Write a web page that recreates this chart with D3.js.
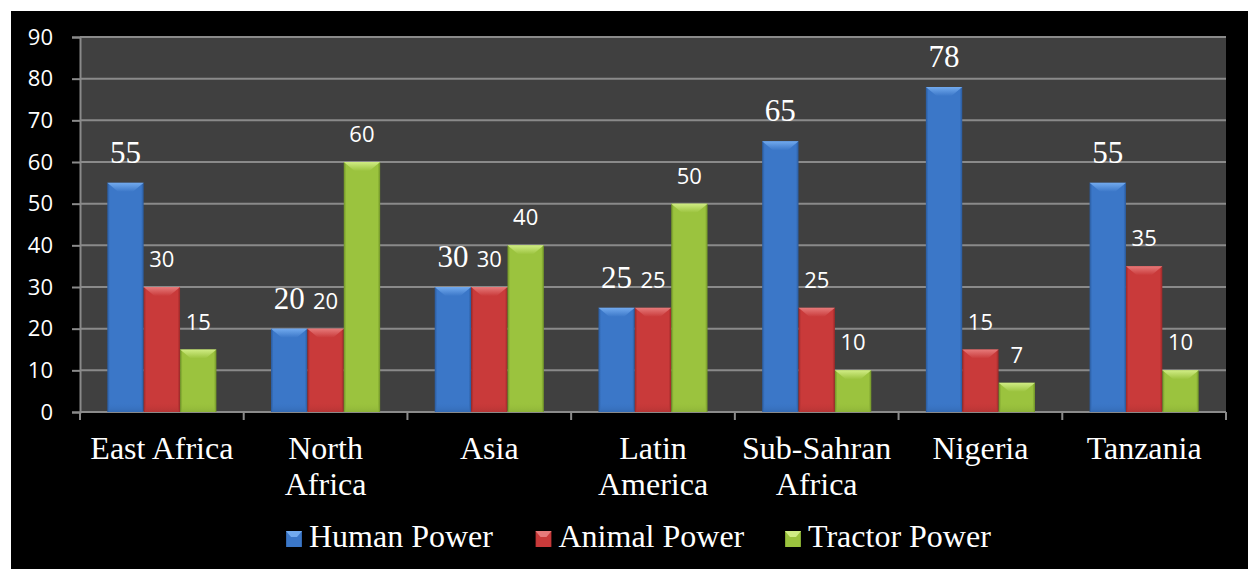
<!DOCTYPE html>
<html>
<head>
<meta charset="utf-8">
<script src="https://cdn.jsdelivr.net/npm/d3@7"></script>
<style>
  html, body { margin: 0; padding: 0; background: #ffffff; }
  svg { display: block; }
</style>
</head>
<body>
<svg id="chart" width="1248" height="569"></svg>
<script>
// Share of farm power source by region (%)
const categories = [["East Africa"], ["North", "Africa"], ["Asia"], ["Latin", "America"], ["Sub-Sahran", "Africa"], ["Nigeria"], ["Tanzania"]];
const seriesNames = ["Human Power", "Animal Power", "Tractor Power"];
const humanPower   = [55, 20, 30, 25, 65, 78, 55];
const animalPower  = [30, 20, 30, 25, 25, 15, 35];
const tractorPower = [15, 60, 40, 50, 10, 7, 10];
const yTicks = [0, 10, 20, 30, 40, 50, 60, 70, 80, 90];

const seriesValues = [humanPower, animalPower, tractorPower];
const palette = [
  { face: "#3b77c8", edge: "#2a5a9c", top: "#72aaee", dark: "#2f63a8" },
  { face: "#c93a3a", edge: "#9a2828", top: "#e67a7a", dark: "#a83030" },
  { face: "#9bc33e", edge: "#6f9227", top: "#d0ec84", dark: "#84a834" }
];

const serif = "'Liberation Serif', 'Times New Roman', serif";
const sans = "'Open Sans', sans-serif";

const svg = d3.select("#chart");
const W = 1248, H = 569;
const plot = { left: 80, right: 1226, top: 37, bottom: 412 };

// Black chart frame on white page
svg.append("rect").attr("x", 11).attr("y", 11).attr("width", W - 11).attr("height", H - 11).attr("fill", "#000");

// Plot area
svg.append("rect")
  .attr("x", plot.left).attr("y", plot.top)
  .attr("width", plot.right - plot.left).attr("height", plot.bottom - plot.top)
  .attr("fill", "#404040");

const catKeys = categories.map(c => c.join(" "));
const x = d3.scaleBand().domain(catKeys).range([plot.left, plot.right]).paddingInner(0).paddingOuter(0);
const bw = x.bandwidth();
const xSub = d3.scaleBand().domain(seriesNames).range([bw / 6, bw * 5 / 6]).paddingInner(0);
const y = d3.scaleLinear().domain([0, 90]).range([plot.bottom, plot.top]);

// Gridlines
svg.append("g").selectAll("line").data(yTicks).join("line")
  .attr("x1", plot.left).attr("x2", plot.right)
  .attr("y1", d => y(d)).attr("y2", d => y(d))
  .attr("stroke", "#8a8a8a").attr("stroke-width", 2);

// Y axis
const yAxis = svg.append("g").attr("transform", `translate(${plot.left},0)`)
  .call(d3.axisLeft(y).tickValues(yTicks).tickSize(8).tickPadding(19));
yAxis.select(".domain").attr("stroke", "#8a8a8a").attr("stroke-width", 2);
yAxis.selectAll(".tick line").attr("stroke", "#8a8a8a").attr("stroke-width", 2);
yAxis.selectAll(".tick text")
  .attr("fill", "#ffffff")
  .style("font-family", sans)
  .style("font-size", "22px");

// X axis tick marks at category boundaries
const boundaries = catKeys.map(k => x(k)).concat([plot.right]);
svg.append("g").selectAll("line").data(boundaries).join("line")
  .attr("x1", d => d).attr("x2", d => d)
  .attr("y1", plot.bottom).attr("y2", plot.bottom + 8)
  .attr("stroke", "#8a8a8a").attr("stroke-width", 2);

// Gradients per series
const defs = svg.append("defs");
palette.forEach((p, i) => {
  const g = defs.append("linearGradient").attr("id", "face" + i).attr("x1", 0).attr("x2", 1).attr("y1", 0).attr("y2", 0);
  g.append("stop").attr("offset", "0%").attr("stop-color", p.edge);
  g.append("stop").attr("offset", "7%").attr("stop-color", p.face);
  g.append("stop").attr("offset", "93%").attr("stop-color", p.face);
  g.append("stop").attr("offset", "100%").attr("stop-color", p.edge);
  const t = defs.append("linearGradient").attr("id", "top" + i).attr("x1", 0).attr("x2", 0).attr("y1", 0).attr("y2", 1);
  t.append("stop").attr("offset", "0%").attr("stop-color", p.top);
  t.append("stop").attr("offset", "100%").attr("stop-color", p.face);
  const b = defs.append("linearGradient").attr("id", "bot" + i).attr("x1", 0).attr("x2", 0).attr("y1", 0).attr("y2", 1);
  b.append("stop").attr("offset", "0%").attr("stop-color", p.face).attr("stop-opacity", 0);
  b.append("stop").attr("offset", "100%").attr("stop-color", p.dark).attr("stop-opacity", 1);
});

// Bars
const barData = [];
catKeys.forEach((k, ci) => {
  seriesNames.forEach((s, si) => {
    barData.push({ cat: k, series: s, si, value: seriesValues[si][ci] });
  });
});

const bars = svg.append("g").selectAll("g").data(barData).join("g");
bars.append("rect")
  .attr("x", d => x(d.cat) + xSub(d.series))
  .attr("y", d => y(d.value))
  .attr("width", xSub.bandwidth())
  .attr("height", d => plot.bottom - y(d.value))
  .attr("fill", d => `url(#face${d.si})`);
// bottom shading
bars.append("rect")
  .attr("x", d => x(d.cat) + xSub(d.series) + 2)
  .attr("y", d => plot.bottom - Math.min(10, plot.bottom - y(d.value)))
  .attr("width", xSub.bandwidth() - 4)
  .attr("height", d => Math.min(10, plot.bottom - y(d.value)))
  .attr("fill", d => `url(#bot${d.si})`)
  .attr("opacity", 0.6);
// top bevel
bars.append("path")
  .attr("d", d => {
    const x0 = x(d.cat) + xSub(d.series), x1 = x0 + xSub.bandwidth();
    const t = y(d.value);
    const b = Math.min(9, (plot.bottom - t) / 2);
    return `M${x0},${t}L${x1},${t}L${x1 - b * 1.2},${t + b}L${x0 + b * 1.2},${t + b}Z`;
  })
  .attr("fill", d => `url(#top${d.si})`);

// Value labels
svg.append("g").selectAll("text").data(barData).join("text")
  .attr("x", d => x(d.cat) + xSub(d.series) + xSub.bandwidth() / 2)
  .attr("y", d => y(d.value) - 20)
  .attr("text-anchor", "middle")
  .attr("fill", "#ffffff")
  .style("font-family", d => d.si === 0 ? serif : sans)
  .style("font-size", d => d.si === 0 ? "31px" : "22px")
  .text(d => d.value);

// Category labels
const catLabels = svg.append("g").selectAll("text").data(categories).join("text")
  .attr("x", d => x(d.join(" ")) + bw / 2)
  .attr("y", 459)
  .attr("text-anchor", "middle")
  .attr("fill", "#ffffff")
  .style("font-family", serif)
  .style("font-size", "32px");
catLabels.selectAll("tspan").data(d => d).join("tspan")
  .attr("x", function () { return d3.select(this.parentNode).attr("x"); })
  .attr("dy", (d, i) => i === 0 ? 0 : 36)
  .text(d => d);

// Legend
const legend = svg.append("g").selectAll("g").data(seriesNames).join("g")
  .attr("transform", (d, i) => `translate(${286 + i * 249.5},547)`);
legend.append("rect")
  .attr("x", 0).attr("y", -16).attr("width", 16).attr("height", 16)
  .attr("fill", (d, i) => `url(#face${i})`);
legend.append("path")
  .attr("d", "M0,-16L16,-16L11,-10L5,-10Z")
  .attr("fill", (d, i) => palette[i].top);
legend.append("text")
  .attr("x", 23).attr("y", 0)
  .attr("fill", "#ffffff")
  .style("font-family", serif)
  .style("font-size", "32px")
  .text(d => d);
</script>
</body>
</html>
